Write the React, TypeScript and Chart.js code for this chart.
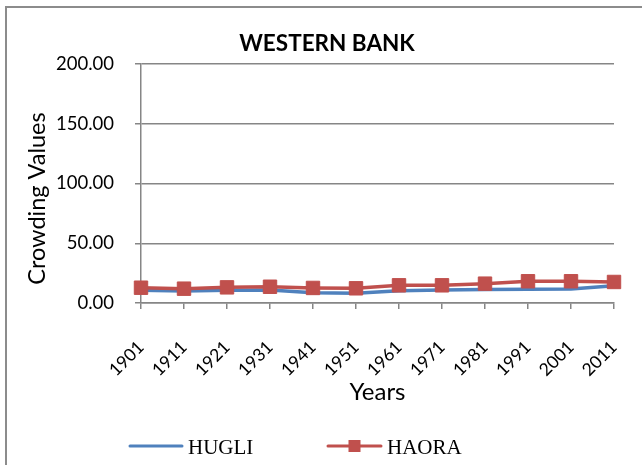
import React, { useEffect, useRef } from "react";
import { Chart, registerables } from "chart.js";

Chart.register(...registerables);

const years = ["1901", "1911", "1921", "1931", "1941", "1951", "1961", "1971", "1981", "1991", "2001", "2011"];
const hugli = [10.6, 10.0, 10.6, 10.9, 8.6, 8.1, 10.3, 10.8, 11.2, 11.5, 11.8, 14.5];
const haora = [12.8, 12.0, 13.1, 13.6, 12.6, 12.3, 14.8, 14.8, 16.2, 18.2, 18.2, 17.6];
const seriesNames = ["HUGLI", "HAORA"];
const yMin = 0;
const yMax = 200;
const yStep = 50;

const BLUE = "#4F81BD";
const RED = "#C0504D";
const GRID = "#868686";
const FONT = "Lato, 'Open Sans', sans-serif";

const legendPlugin = {
  id: "lineLegend",
  afterDraw(chart: any) {
    const ctx = chart.ctx as CanvasRenderingContext2D;
    const ds = chart.data.datasets;
    const y = 446;
    const items = [
      { lineX: 130, lineW: 52, textX: 188 },
      { lineX: 328, lineW: 53, textX: 387 },
    ];
    ctx.save();
    items.forEach((it, i) => {
      const d = ds[i];
      ctx.strokeStyle = d.borderColor;
      ctx.lineWidth = 3;
      ctx.lineCap = "round";
      ctx.beginPath();
      ctx.moveTo(it.lineX, y);
      ctx.lineTo(it.lineX + it.lineW, y);
      ctx.stroke();
      if (d.pointRadius > 0) {
        ctx.fillStyle = d.pointBackgroundColor;
        ctx.fillRect(it.lineX + it.lineW / 2 - 6, y - 6, 12, 12);
      }
      ctx.fillStyle = "#000";
      ctx.font = "21px 'Liberation Serif', 'Times New Roman', serif";
      ctx.textBaseline = "alphabetic";
      ctx.textAlign = "left";
      ctx.fillText(d.label, it.textX, y + 8);
    });
    ctx.restore();
  },
};

export default function App() {
  const ref = useRef<HTMLCanvasElement>(null);

  useEffect(() => {
    if (!ref.current) return;
    const chart = new Chart(ref.current, {
      type: "line",
      data: {
        labels: years,
        datasets: [
          {
            label: seriesNames[0],
            data: hugli,
            borderColor: BLUE,
            backgroundColor: BLUE,
            borderWidth: 3.5,
            pointRadius: 0,
            pointHoverRadius: 0,
            tension: 0,
            order: 1,
          },
          {
            label: seriesNames[1],
            data: haora,
            borderColor: RED,
            backgroundColor: RED,
            pointBackgroundColor: RED,
            pointBorderColor: RED,
            borderWidth: 3.5,
            pointStyle: "rect",
            pointRadius: 9.5,
            pointBorderWidth: 1,
            tension: 0,
            order: 0,
          },
        ],
      },
      options: {
        animation: false,
        responsive: false,
        maintainAspectRatio: false,
        layout: { padding: { left: 40, right: 28, top: 0, bottom: 52 } },
        plugins: {
          legend: { display: false },
          tooltip: { enabled: false },
          title: {
            display: true,
            text: "WESTERN BANK",
            color: "#000",
            font: { family: FONT, size: 22.5, weight: "bold", lineHeight: 1.2 },
            padding: { top: 29.8, bottom: 7.2 },
          },
        },
        scales: {
          x: {
            type: "category",
            offset: false,
            grid: {
              drawOnChartArea: false,
              drawTicks: true,
              tickLength: 6,
              color: GRID,
              lineWidth: 1.5,
            },
            border: { display: true, color: GRID, width: 1.5 },
            ticks: {
              autoSkip: false,
              minRotation: 45,
              maxRotation: 45,
              color: "#000",
              padding: 28,
              font: { family: FONT, size: 17.5 },
            },
            title: {
              display: true,
              text: "Years",
              color: "#000",
              font: { family: FONT, size: 24, lineHeight: 1.2 },
              padding: { top: 0, bottom: 6.6 },
            },
            afterFit: (s: any) => {
              s.height = 110;
              s.paddingLeft = 0;
              s.paddingRight = 0;
            },
          },
          y: {
            min: yMin,
            max: yMax,
            ticks: {
              stepSize: yStep,
              color: "#000",
              padding: 21,
              font: { family: FONT, size: 18.5 },
              callback: (v: any) => Number(v).toFixed(2),
            },
            grid: {
              color: GRID,
              lineWidth: 1.5,
              tickLength: 6,
              drawTicks: true,
            },
            border: { display: true, color: GRID, width: 1.5 },
            title: {
              display: true,
              text: "Crowding Values     ",
              color: "#000",
              font: { family: FONT, size: 23.5, lineHeight: 1.2 },
              padding: { top: -17.1, bottom: 0 },
            },
            afterFit: (s: any) => {
              s.width = 101;
            },
          },
        },
      },
      plugins: [legendPlugin],
    });
    return () => chart.destroy();
  }, []);

  return (
    <div
      style={{
        position: "fixed",
        left: 0,
        top: 0,
        width: 642,
        height: 465,
        overflow: "hidden",
        background: "#fff",
      }}
    >
      <div
        style={{
          position: "absolute",
          left: 5,
          top: 6,
          width: 700,
          height: 500,
          border: "2px solid #8c8c8c",
        }}
      />
      <canvas
        ref={ref}
        width={642}
        height={465}
        style={{ position: "absolute", left: 0, top: 0, width: 642, height: 465 }}
      />
    </div>
  );
}
